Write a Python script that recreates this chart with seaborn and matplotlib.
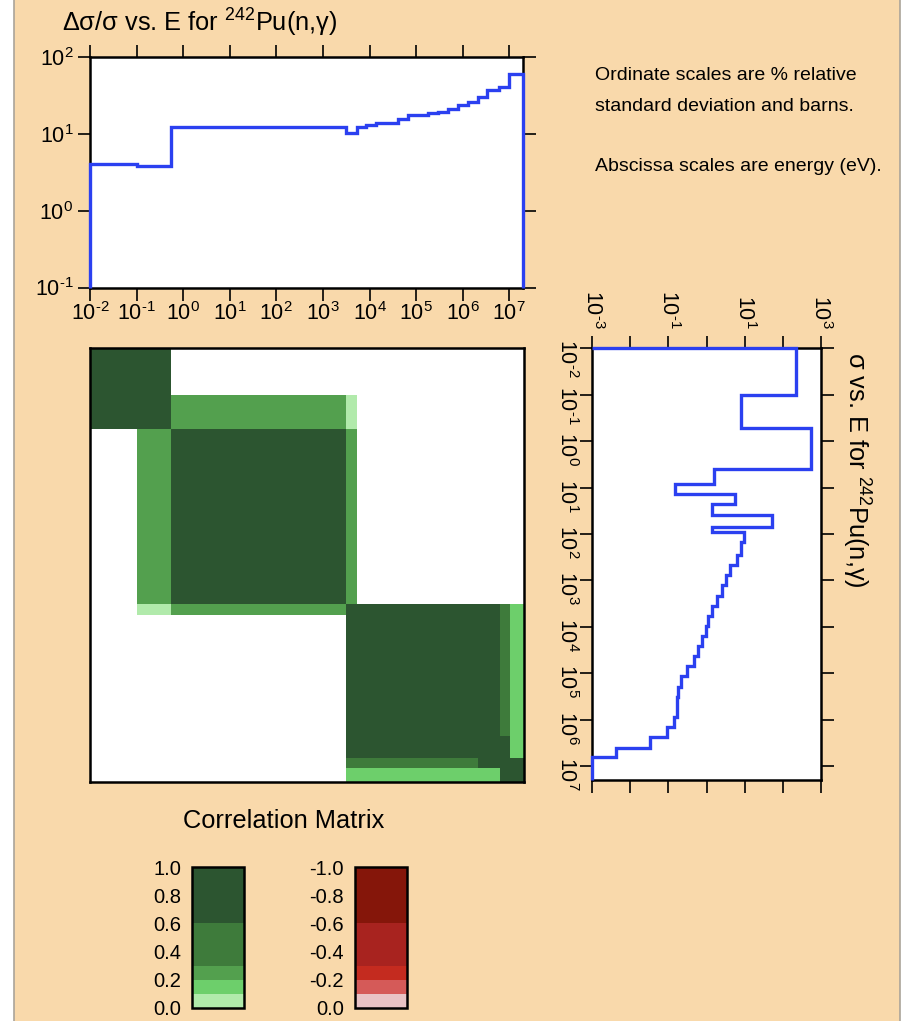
import numpy as np
import matplotlib
matplotlib.use('Agg')
import matplotlib.pyplot as plt
import seaborn as sns
from matplotlib.colors import ListedColormap, BoundaryNorm
from matplotlib.cm import ScalarMappable
from matplotlib.ticker import FixedLocator, FixedFormatter, NullLocator
from matplotlib.patches import Rectangle
from matplotlib.lines import Line2D

# relative standard deviation (%) per energy group
err_edges = [1e-2, 1e-1, 0.54, 3.1e3, 5.3e3, 8.4e3, 1.38e4, 4.0e4, 6.6e4, 1.78e5,
             2.9e5, 4.8e5, 7.8e5, 1.27e6, 2.1e6, 3.4e6, 6.1e6, 1e7, 2e7]
err_values = [4.1, 3.8, 12.2, 10.2, 12.2, 13.1, 14.0, 15.5, 17.7, 18.6,
              19.5, 21.0, 23.9, 26.3, 30.1, 37.5, 41.4, 60.5]

# cross section (barns) per energy group
sig_edges = [1e-2, 1e-1, 0.53, 3.9, 8.4, 13.8, 22.7, 40, 70, 92,
             147, 285, 468, 770, 1.26e3, 2.2e3, 3.6e3, 5.9e3, 9.6e3, 1.58e4,
             2.6e4, 4.3e4, 7.0e4, 1.15e5, 1.96e5, 3.2e5, 8.7e5, 1.43e6, 2.4e6, 4.1e6,
             6.5e6, 2e7]
sig_values = [224, 8.0, 556, 1.6, 0.149, 5.6, 1.42, 53.7, 1.42, 9.8,
              8.0, 6.2, 4.1, 3.2, 2.5, 1.86, 1.41, 1.11, 0.95, 0.74,
              0.61, 0.48, 0.30, 0.215, 0.18, 0.166, 0.143, 0.09, 0.033, 0.0042,
              0.001]

# correlation matrix on coarse energy blocks
corr_edges = [1e-2, 1e-1, 0.54, 3.1e3, 5.3e3, 2.1e6, 6.1e6, 1e7, 2e7]
corr_values = [
    [1.0, 1.0, 0.0, 0.0, 0.0, 0.0, 0.0, 0.0],
    [1.0, 1.0, 0.25, 0.05, 0.0, 0.0, 0.0, 0.0],
    [0.0, 0.25, 1.0, 0.25, 0.0, 0.0, 0.0, 0.0],
    [0.0, 0.05, 0.25, 1.0, 1.0, 1.0, 0.45, 0.15],
    [0.0, 0.0, 0.0, 1.0, 1.0, 1.0, 0.45, 0.15],
    [0.0, 0.0, 0.0, 1.0, 1.0, 1.0, 1.0, 0.15],
    [0.0, 0.0, 0.0, 0.45, 0.45, 1.0, 1.0, 1.0],
    [0.0, 0.0, 0.0, 0.15, 0.15, 0.15, 1.0, 1.0],
]

energy_ticks = [1e-2, 1e-1, 1e0, 1e1, 1e2, 1e3, 1e4, 1e5, 1e6, 1e7]
energy_exps = ['-2', '-1', '0', '1', '2', '3', '4', '5', '6', '7']
err_ticks = [1e-1, 1e0, 1e1, 1e2]
err_exps = ['-1', '0', '1', '2']
sig_ticks = [1e-3, 1e-2, 1e-1, 1e0, 1e1, 1e2, 1e3]
sig_exps = ['-3', '', '-1', '', '1', '', '3']

pos_levels = [0.0, 0.1, 0.2, 0.3, 0.6, 1.0]
pos_colors = ['#b1eaab', '#6dcf6b', '#53a04e', '#3e7b3b', '#2c5530']
neg_levels = [-1.0, -0.6, -0.3, -0.2, -0.1, 0.0]
neg_colors = ['#85160a', '#a8231f', '#c42b1f', '#d55a58', '#e9c3c5']
pos_ticks = [0.0, 0.2, 0.4, 0.6, 0.8, 1.0]
neg_ticks = [-1.0, -0.8, -0.6, -0.4, -0.2, 0.0]

sns.set_theme(style='ticks')
plt.rcParams['font.family'] = ['Liberation Sans', 'DejaVu Sans']
plt.rcParams['mathtext.fontset'] = 'custom'
plt.rcParams['mathtext.rm'] = 'Liberation Sans'
plt.rcParams['mathtext.it'] = 'Liberation Sans:italic'
plt.rcParams['mathtext.bf'] = 'Liberation Sans:bold'
plt.rcParams['axes.unicode_minus'] = False

peach = '#f9d9ab'
blue = '#2b40f0'
W, H = 901, 1021
TICK_FS = 15.5
TITLE_FS = 18.3


def box(l, t, r, b):
    # pixel box -> figure fraction
    return [l / W, 1 - b / H, (r - l) / W, (b - t) / H]


def pow_labels(exps):
    # "10^n" with a plain hyphen for negative powers, like the original
    return ['10$^{\\text{%s}}$' % e if e else '' for e in exps]


def frame(ax):
    ax.set_facecolor('white')
    for s in ax.spines.values():
        s.set_visible(True)
        s.set_color('black')
        s.set_linewidth(1.8)


fig = plt.figure(figsize=(W / 100, H / 100), dpi=100, facecolor='white')
fig.patches.append(Rectangle((14 / W, 0), 886 / W, 1, transform=fig.transFigure,
                             facecolor=peach, edgecolor='none', zorder=-10))
for xl in (14 / W, 900 / W):
    fig.add_artist(Line2D([xl, xl], [0, 1], color='#aaa49a', lw=1.2))

# top: relative uncertainty
ax_err = fig.add_axes(box(90, 57.3, 523.3, 287.5))
frame(ax_err)
ax_err.set_xscale('log')
ax_err.set_yscale('log')
ax_err.stairs(err_values, err_edges, baseline=0.1, color=blue, lw=2.4,
              zorder=3, clip_on=False)
ax_err.set_xlim(1e-2, 2e7)
ax_err.set_ylim(0.1, 100)
ax_err.xaxis.set_major_locator(FixedLocator(energy_ticks))
ax_err.xaxis.set_major_formatter(FixedFormatter(pow_labels(energy_exps)))
ax_err.yaxis.set_major_locator(FixedLocator(err_ticks))
ax_err.yaxis.set_major_formatter(FixedFormatter(pow_labels(err_exps)))
ax_err.xaxis.set_minor_locator(NullLocator())
ax_err.yaxis.set_minor_locator(NullLocator())
ax_err.tick_params(direction='out', length=9, width=1.2, color='black',
                   labelcolor='black', labelsize=TICK_FS, top=True, right=True,
                   labeltop=False, labelright=False)
ax_err.tick_params(axis='x', pad=1.5)
ax_err.tick_params(axis='y', pad=3)

# correlation matrix
levels_all = neg_levels + pos_levels[1:]
cmap_all = ListedColormap(neg_colors + pos_colors)
cmap_all.set_over(pos_colors[-1])
cmap_all.set_bad('white')
norm_all = BoundaryNorm(levels_all, cmap_all.N)
ax_m = fig.add_axes(box(90, 348.3, 524, 781.7))
frame(ax_m)
ax_m.set_xscale('log')
ax_m.set_yscale('log')
corr = np.ma.masked_equal(np.array(corr_values), 0.0)
ax_m.pcolormesh(corr_edges, corr_edges, corr, cmap=cmap_all, norm=norm_all,
                shading='flat', edgecolors='none')
ax_m.set_xlim(1e-2, 2e7)
ax_m.set_ylim(2e7, 1e-2)
ax_m.set_xticks([])
ax_m.set_yticks([])
ax_m.xaxis.set_minor_locator(NullLocator())
ax_m.yaxis.set_minor_locator(NullLocator())

# side: cross section, rotated
ax_sig = fig.add_axes(box(592.3, 348.3, 820.7, 780))
frame(ax_sig)
ax_sig.set_xscale('log')
ax_sig.set_yscale('log')
ax_sig.stairs(sig_values, sig_edges, orientation='horizontal', baseline=1e-3,
              color=blue, lw=2.4, zorder=3, clip_on=False)
ax_sig.set_xlim(1e-3, 1e3)
ax_sig.set_ylim(2e7, 1e-2)
ax_sig.xaxis.set_major_locator(FixedLocator(sig_ticks))
ax_sig.xaxis.set_major_formatter(FixedFormatter(pow_labels(sig_exps)))
ax_sig.yaxis.set_major_locator(FixedLocator(energy_ticks))
ax_sig.yaxis.set_major_formatter(FixedFormatter(pow_labels(energy_exps)))
ax_sig.xaxis.set_minor_locator(NullLocator())
ax_sig.yaxis.set_minor_locator(NullLocator())
ax_sig.tick_params(direction='out', length=9, width=1.2, color='black',
                   labelcolor='black', labelsize=TICK_FS, labelrotation=-90,
                   top=True, bottom=True, left=True, right=True,
                   labeltop=True, labelbottom=False, labelleft=True, labelright=False)
ax_sig.tick_params(axis='x', pad=5)
ax_sig.tick_params(axis='y', pad=1.5)

# legend bars
for rect, levels, colors, ticks, flip in [
        (box(192.3, 867.3, 244.3, 1007.7), pos_levels, pos_colors, pos_ticks, False),
        (box(355, 867.3, 406.7, 1007.7), neg_levels, neg_colors, neg_ticks, True)]:
    cax = fig.add_axes(rect)
    sm = ScalarMappable(norm=BoundaryNorm(levels, len(colors)), cmap=ListedColormap(colors))
    cb = fig.colorbar(sm, cax=cax, spacing='proportional', ticks=ticks, format='%.1f')
    cb.outline.set_linewidth(1.8)
    cb.outline.set_edgecolor('black')
    cax.yaxis.set_ticks_position('left')
    cax.tick_params(length=0, pad=8, labelsize=14.5, labelcolor='black')
    cax.yaxis.set_minor_locator(NullLocator())
    if flip:
        cax.invert_yaxis()

# texts
fig.text(62 / W, 1 - 32 / H, 'Δσ/σ vs. E for $^{242}$Pu(n,γ)', fontsize=TITLE_FS,
         ha='left', va='baseline', color='black')
fig.text(840 / W, 1 - 352 / H, 'σ vs. E for $^{242}$Pu(n,γ)', fontsize=TITLE_FS,
         rotation=-90, ha='left', va='top', color='black')
fig.text(284 / W, 1 - 828 / H, 'Correlation Matrix', fontsize=TITLE_FS,
         ha='center', va='baseline', color='black')
fig.text(595 / W, 1 - 80 / H, 'Ordinate scales are % relative', fontsize=14,
         ha='left', va='baseline', color='black')
fig.text(595 / W, 1 - 110.7 / H, 'standard deviation and barns.', fontsize=14,
         ha='left', va='baseline', color='black')
fig.text(595 / W, 1 - 170.7 / H, 'Abscissa scales are energy (eV).', fontsize=14,
         ha='left', va='baseline', color='black')

fig.savefig('out.png', dpi=100, facecolor=fig.get_facecolor())
